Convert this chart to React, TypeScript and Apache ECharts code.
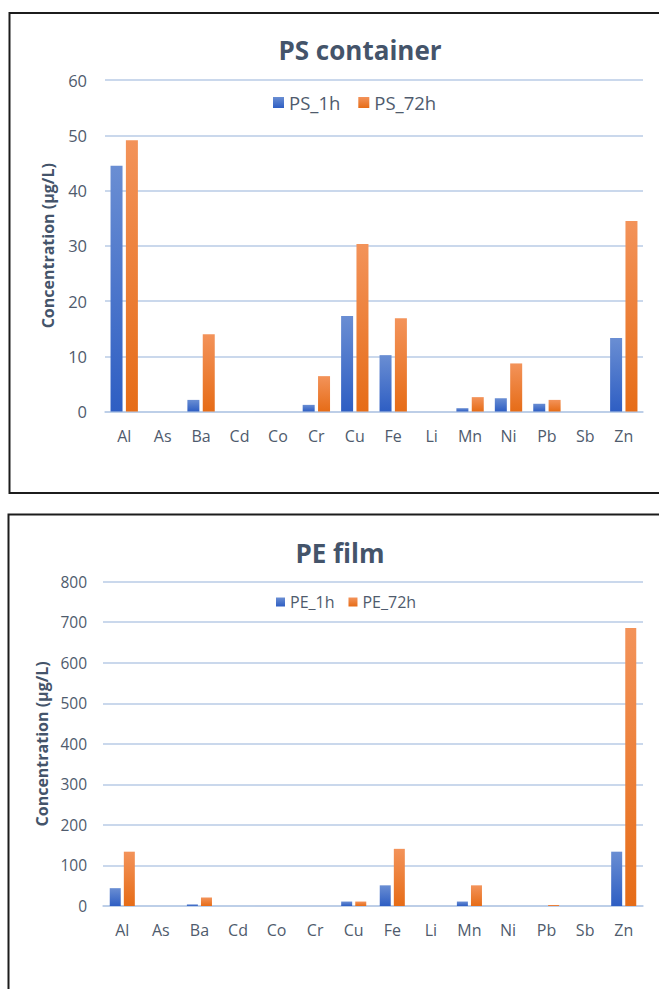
import React, { useEffect, useRef } from "react";
import * as echarts from "echarts";

const categories = ["Al", "As", "Ba", "Cd", "Co", "Cr", "Cu", "Fe", "Li", "Mn", "Ni", "Pb", "Sb", "Zn"];
const ps1h = [44.5, 0, 2.1, 0, 0, 1.2, 17.3, 10.2, 0, 0.6, 2.4, 1.4, 0, 13.3];
const ps72h = [49.1, 0, 14.0, 0, 0, 6.4, 30.3, 16.9, 0, 2.6, 8.7, 2.1, 0, 34.5];
const pe1h = [44, 0, 4, 0, 0, 0, 11, 51, 0, 11, 0, 0, 0, 134];
const pe72h = [134, 0, 21, 0, 0, 0, 11, 141, 0, 51, 0, 2.5, 0, 686];
const psTicks = { min: 0, max: 60, interval: 10 };
const peTicks = { min: 0, max: 800, interval: 100 };

const blueGrad = {
  type: "linear", x: 0, y: 0, x2: 0, y2: 1,
  colorStops: [{ offset: 0, color: "#6a8ed3" }, { offset: 1, color: "#2e5ec3" }],
};
const orangeGrad = {
  type: "linear", x: 0, y: 0, x2: 0, y2: 1,
  colorStops: [{ offset: 0, color: "#f3935a" }, { offset: 1, color: "#e66c17" }],
};

const FONT = "'Open Sans', sans-serif";
const LABEL = "#4f5b6d";
const TITLE = "#44546a";
const GRIDC = "#b9cbe6";

export default function App() {
  const ref = useRef<HTMLDivElement>(null);
  useEffect(() => {
    document.body.style.margin = "0";
    const chart = echarts.init(ref.current!, null, { renderer: "svg" });
    const xAxisCommon = (gridIndex: number, fs: number) => ({
      type: "category",
      gridIndex,
      data: categories,
      axisTick: { show: false },
      axisLine: { lineStyle: { color: GRIDC, width: 1.5 } },
      axisLabel: { color: LABEL, fontSize: fs, fontFamily: FONT, margin: 16, interval: 0 },
    });
    const yAxisCommon = (gridIndex: number, ticks: any, fs: number, margin: number) => ({
      type: "value",
      gridIndex,
      ...ticks,
      name: "Concentration (µg/L)",
      nameLocation: "middle",
      nameGap: 49,
      nameTextStyle: { color: TITLE, fontSize: 16, fontWeight: "bold", fontFamily: FONT },
      axisLine: { show: false },
      axisTick: { show: false },
      splitLine: { lineStyle: { color: GRIDC, width: 1.5 } },
      axisLabel: { color: LABEL, fontSize: fs, fontFamily: FONT, margin },
    });
    const barCommon = {
      type: "bar",
      barWidth: 12,
      barGap: "28%",
    };
    chart.setOption({
      animation: false,
      graphic: [
        { type: "rect", shape: { x: 9.5, y: 13, width: 700, height: 480 }, style: { fill: "none", stroke: "#1c1c1c", lineWidth: 2 }, silent: true },
        { type: "rect", shape: { x: 8.5, y: 514.5, width: 700, height: 520 }, style: { fill: "none", stroke: "#1c1c1c", lineWidth: 2 }, silent: true },
      ],
      title: [
        { text: "PS container", left: 355, top: 32, textAlign: "center", textStyle: { color: TITLE, fontSize: 26, fontWeight: "bold", fontFamily: FONT } },
        { text: "PE film", left: 335, top: 535, textAlign: "center", textStyle: { color: TITLE, fontSize: 26, fontWeight: "bold", fontFamily: FONT } },
      ],
      legend: [
        { data: ["PS_1h", "PS_72h"], left: 268, top: 88, itemWidth: 11, itemHeight: 11, itemGap: 18, icon: "rect", textStyle: { color: LABEL, fontSize: 18.5, fontFamily: FONT } },
        { data: ["PE_1h", "PE_72h"], left: 271, top: 589, itemWidth: 9, itemHeight: 9, itemGap: 14, icon: "rect", textStyle: { color: LABEL, fontSize: 16, fontFamily: FONT } },
      ],
      grid: [
        { left: 105, right: 16, top: 80, height: 331.5 },
        { left: 103, right: 16, top: 581.7, height: 324.3 },
      ],
      xAxis: [xAxisCommon(0, 16), xAxisCommon(1, 16)],
      yAxis: [yAxisCommon(0, psTicks, 16.5, 18), yAxisCommon(1, peTicks, 15.5, 16)],
      series: [
        { ...barCommon, name: "PS_1h", xAxisIndex: 0, yAxisIndex: 0, data: ps1h, color: "#4472c4", itemStyle: { color: blueGrad } },
        { ...barCommon, name: "PS_72h", xAxisIndex: 0, yAxisIndex: 0, data: ps72h, color: "#ed7d31", itemStyle: { color: orangeGrad } },
        { ...barCommon, name: "PE_1h", barWidth: 11, xAxisIndex: 1, yAxisIndex: 1, data: pe1h, color: "#4472c4", itemStyle: { color: blueGrad } },
        { ...barCommon, name: "PE_72h", barWidth: 11, xAxisIndex: 1, yAxisIndex: 1, data: pe72h, color: "#ed7d31", itemStyle: { color: orangeGrad } },
      ],
    });
    return () => chart.dispose();
  }, []);
  return <div ref={ref} style={{ width: 659, height: 989 }} />;
}
